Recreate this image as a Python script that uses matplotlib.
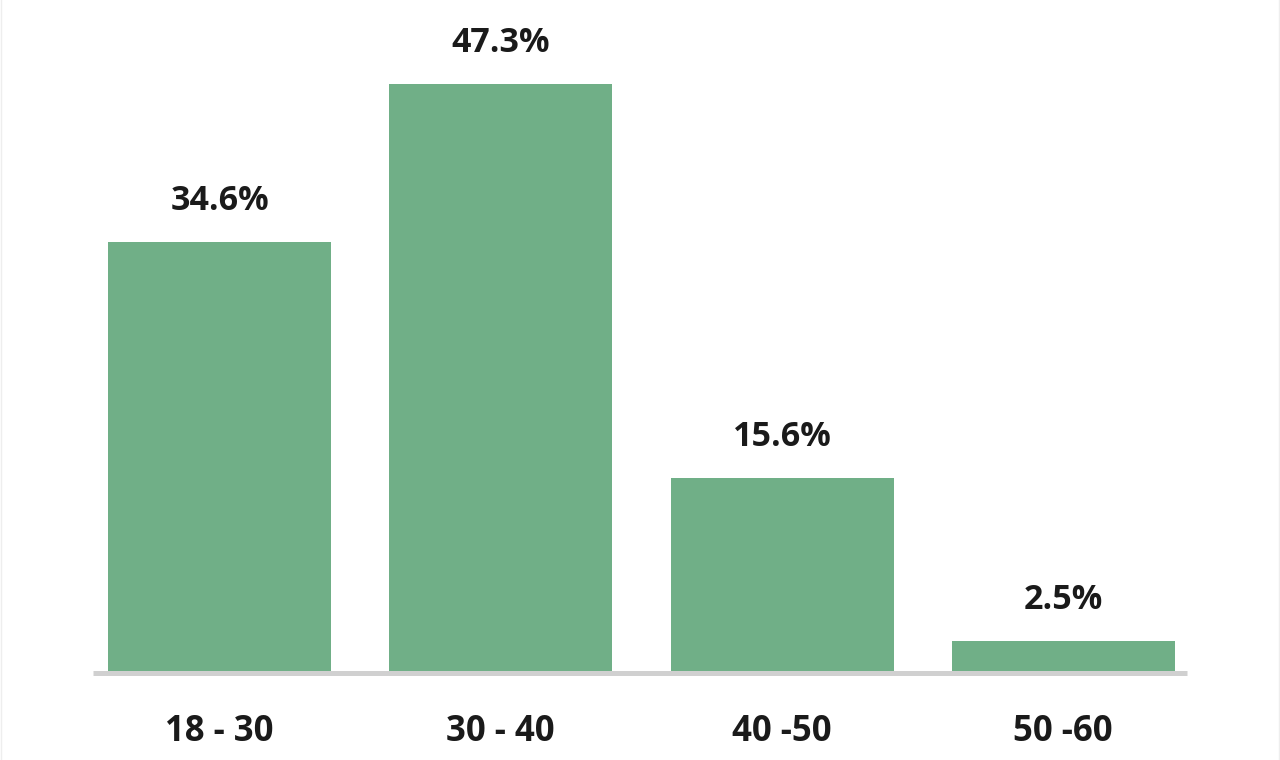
import matplotlib
matplotlib.use("Agg")
import matplotlib.pyplot as plt
from matplotlib.lines import Line2D

categories = ["18 - 30", "30 - 40", "40 -50", "50 -60"]
values = [34.6, 47.3, 15.6, 2.5]
value_labels = ["34.6%", "47.3%", "15.6%", "2.5%"]

plt.rcParams['font.family'] = ['Open Sans', 'DejaVu Sans']

W, H = 1280, 760
fig = plt.figure(figsize=(W / 100, H / 100), dpi=100)
fig.patch.set_facecolor('white')

base_px = 672.5
left_px, right_px = 93, 1187
ax = fig.add_axes([left_px / W, (H - base_px) / H, (right_px - left_px) / W, base_px / H])
ax.set_facecolor('none')

x = list(range(len(categories)))
bars = ax.bar(x, values, width=0.793, color='#70af87', zorder=2)

ax.set_xlim(-0.45, 3.44)
ax.set_ylim(0, base_px / 12.45)

for xi, v, lab in zip(x, values, value_labels):
    ax.annotate(lab, (xi, v), xytext=(0, 23), textcoords='offset points',
                ha='center', va='baseline', fontsize=24.5, fontweight='bold',
                color='#1a1a1a')

for s in ['top', 'right', 'left']:
    ax.spines[s].set_visible(False)
ax.spines['bottom'].set_color('#d0d0d0')
ax.spines['bottom'].set_linewidth(3.6)
ax.spines['bottom'].set_capstyle('butt')
ax.spines['bottom'].set_zorder(3)

ax.set_yticks([])
ax.set_xticks(x)
ax.set_xticklabels(categories, fontsize=25, fontweight='bold', color='#1a1a1a')
ax.tick_params(axis='x', length=0, pad=30)

fig.add_artist(Line2D([0.5 / W, 0.5 / W], [0, 1], color='#eeeeee', lw=1))
fig.add_artist(Line2D([1 - 1.5 / W, 1 - 1.5 / W], [0, 1], color='#eeeeee', lw=1))

fig.savefig('out.png', dpi=100, facecolor='white')
